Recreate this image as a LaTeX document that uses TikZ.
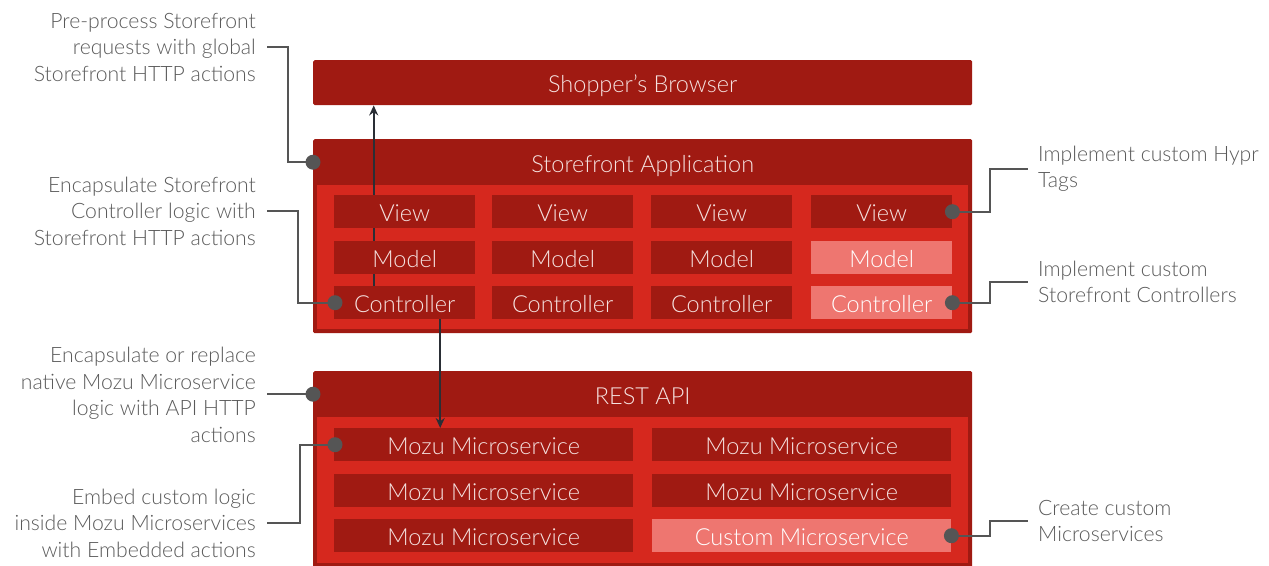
\documentclass[tikz,border=0pt]{standalone}
\usepackage{fontspec}
\setmainfont{Lato}[UprightFont=* Light]
\usetikzlibrary{arrows.meta}
\definecolor{dred}{HTML}{A01A12}
\definecolor{bred}{HTML}{D6281E}
\definecolor{pink}{HTML}{EE7670}
\definecolor{celltxt}{HTML}{F5E2E0}
\definecolor{anngray}{HTML}{555555}
\definecolor{anntxt}{HTML}{5A5A5A}
\definecolor{arrcol}{HTML}{2A2E35}
\begin{document}
\begin{tikzpicture}[x=1pt,y=-1pt,
  boxfont/.style={font=\fontsize{23.5}{28}\selectfont, text height=20.5pt, text depth=0pt},
  outerbox/.style={fill=dred, rounded corners=1.5pt, anchor=north west, inner sep=0pt},
  innerbox/.style={fill=bred, anchor=north west, inner sep=0pt},
  headtxt/.style={anchor=north west, inner sep=0pt, text=celltxt, boxfont},
  cell/.style={fill=dred, text=celltxt, minimum width=141pt, minimum height=33pt, anchor=north west, inner sep=0pt, boxfont},
  wcell/.style={cell, minimum width=299pt},
  custom/.style={fill=pink, text=white},
  anntext/.style={text=anntxt, inner sep=0pt, font=\fontsize{21.2}{26.5}\selectfont},
  ann/.style={draw=anngray, line width=2.2pt},
  dot/.style={circle, fill=anngray, minimum size=15pt, inner sep=0pt},
  arr/.style={draw=arrcol, line width=2.3pt, -{Stealth[length=10pt,width=9pt]}}
]
\useasboundingbox (0,0) rectangle (1269,565);

% Shopper's Browser
\node[outerbox, minimum width=659pt, minimum height=45pt, text=celltxt, boxfont] (sb) at (313,60) {Shopper's Browser};

% Storefront Application
\node[outerbox, minimum width=659pt, minimum height=194pt] (sf) at (313,139) {};
\node[innerbox, minimum width=651pt, minimum height=144pt] (sfin) at (317,185) {};
\node[headtxt, minimum width=659pt, minimum height=46pt] (sfh) at (313,139) {Storefront Application};

% REST API
\node[outerbox, minimum width=659pt, minimum height=200pt] (api) at (313,371) {};
\node[innerbox, minimum width=651pt, minimum height=146pt] (apiin) at (317,417) {};
\node[headtxt, minimum width=659pt, minimum height=46pt] (apih) at (313,371) {REST API};

% cells (drawn over the up arrow)
\node[cell] (c1) at (334,286) {Controller};
\draw[arr] ([xshift=-31pt]c1.north) -- ([xshift=-31pt]c1.north |- sb.south);

\node[cell] (v1) at (334,195) {View};
\node[cell] (v2) at (492,195) {View};
\node[cell] (v3) at (651,195) {View};
\node[cell] (v4) at (811,195) {View};
\node[cell] (m1) at (334,241) {Model};
\node[cell] (m2) at (492,241) {Model};
\node[cell] (m3) at (651,241) {Model};
\node[cell, custom] (m4) at (811,241) {Model};
\node[cell] (c2) at (492,286) {Controller};
\node[cell] (c3) at (651,286) {Controller};
\node[cell, custom] (c4) at (811,286) {Controller};

\node[wcell] (ms1) at (334,428) {Mozu Microservice};
\node[wcell] (ms2) at (652,428) {Mozu Microservice};
\node[wcell] (ms3) at (334,474) {Mozu Microservice};
\node[wcell] (ms4) at (652,474) {Mozu Microservice};
\node[wcell] (ms5) at (334,519) {Mozu Microservice};
\node[wcell, custom] (ms6) at (652,519) {Custom Microservice};

\draw[arr] ([xshift=35.5pt]c1.south) -- ([xshift=35.5pt]c1.south |- ms1.north);

% annotation texts
\node[anntext, align=right, anchor=east] (t1) at (256,47) {Pre-process Storefront\\requests with global\\Storefront HTTP actions};
\node[anntext, align=right, anchor=east] (t2) at (256,211) {Encapsulate Storefront\\Controller logic with\\Storefront HTTP actions};
\node[anntext, align=right, anchor=east] (t3) at (256,395) {Encapsulate or replace\\native Mozu Microservice\\logic with API HTTP\\actions};
\node[anntext, align=right, anchor=east] (t4) at (256,523) {Embed custom logic\\inside Mozu Microservices\\with Embedded actions};
\node[anntext, align=left, anchor=west] (t5) at (1038,169) {Implement custom Hypr\\Tags};
\node[anntext, align=left, anchor=west] (t6) at (1038,282) {Implement custom\\Storefront Controllers};
\node[anntext, align=left, anchor=west] (t7) at (1038,521) {Create custom\\Microservices};

% dot anchors
\coordinate (p1) at (sfh.west);
\coordinate (p2) at ([xshift=1pt]c1.west);
\coordinate (p3) at (apih.west);
\coordinate (p4) at ([xshift=1pt]ms1.west);
\coordinate (p5) at (v4.east);
\coordinate (p6) at (c4.east);
\coordinate (p7) at (ms6.east);

% connectors
\draw[ann] ([xshift=11pt]t1.east) -| ([xshift=-25pt]p1) -- (p1);
\draw[ann] ([xshift=11pt]t2.east) -| ([xshift=-37pt]p2) -- (p2);
\draw[ann] ([xshift=11pt]t3.east |- p3) -- (p3);
\draw[ann] ([xshift=11pt]t4.east) -| ([xshift=-35pt]p4) -- (p4);
\draw[ann] (p5) -| ([xshift=-48pt]t5.west) -- ([xshift=-10pt]t5.west);
\draw[ann] (p6) -| ([xshift=-48pt]t6.west) -- ([xshift=-10pt]t6.west);
\draw[ann] (p7) -| ([xshift=-48pt]t7.west) -- ([xshift=-10pt]t7.west);

% dots
\foreach \p in {p1,p2,p3,p4,p5,p6,p7} \node[dot] at (\p) {};
\end{tikzpicture}
\end{document}
